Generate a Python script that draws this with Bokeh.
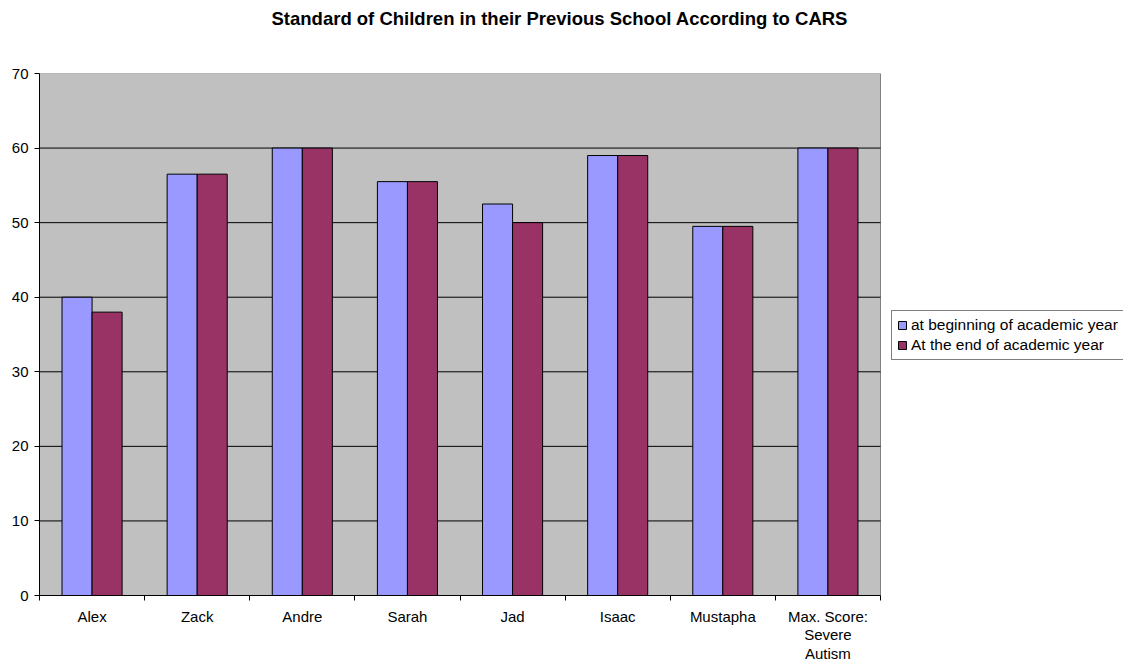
from bokeh.plotting import figure
from bokeh.models import ColumnDataSource, FixedTicker, Legend, LegendItem, Range1d, Title
from bokeh.embed import file_html
from bokeh.resources import INLINE

# CARS scores per child
children = ["Alex", "Zack", "Andre", "Sarah", "Jad", "Isaac", "Mustapha", "Max. Score:\nSevere\nAutism"]
beginning_of_year = [40, 56.5, 60, 55.5, 52.5, 59, 49.5, 60]
end_of_year = [38, 56.5, 60, 55.5, 50, 59, 49.5, 60]
y_ticks = [0, 10, 20, 30, 40, 50, 60, 70]

FONT = "Liberation Sans"
bar_w = 1 / 3.5  # two bars plus a 150% gap per category

# page geometry: the data frame runs to the right edge so the legend can sit beside the bars
PAGE_W, PAGE_H = 1123, 664
LEFT, TOP, BOTTOM = 39, 73, 68
CHART_W = 841  # width of the grey chart area in pixels
frame_w = PAGE_W - LEFT
n = len(children)
x_end = n * frame_w / CHART_W

centers = [i + 0.5 for i in range(n)]
src = ColumnDataSource(dict(
    x_begin=[c - bar_w / 2 for c in centers],
    x_end=[c + bar_w / 2 for c in centers],
    begin=beginning_of_year,
    end=end_of_year,
))

p = figure(
    width=PAGE_W, height=PAGE_H,
    x_range=Range1d(0, x_end), y_range=Range1d(y_ticks[0], y_ticks[-1]),
    output_backend="svg", toolbar_location=None,
    min_border_left=LEFT, min_border_right=0, min_border_top=TOP, min_border_bottom=BOTTOM,
)
p.background_fill_color = "white"
p.border_fill_color = "white"
p.outline_line_color = None
p.xgrid.visible = False
p.ygrid.visible = False

p.title.text = "Standard of Children in their Previous School According to CARS"
p.title.align = "left"
p.title.offset = 232
p.title.standoff = 9
p.title.text_font = FONT
p.title.text_font_size = "18.5px"
p.title.text_font_style = "bold"
p.title.text_color = "black"

# blank band between the title and the plot area
p.add_layout(Title(text=" ", text_font_size="10px", standoff=27), "above")

# grey chart area with its border
p.quad(left=[0], right=[n], bottom=[y_ticks[0]], top=[y_ticks[-1]],
       fill_color="#C0C0C0", line_color="#808080", line_width=1)

# horizontal gridlines across the chart area only
inner = y_ticks[1:-1]
p.segment(x0=[0] * len(inner), x1=[n] * len(inner), y0=inner, y1=inner,
          line_color="black", line_width=1)

r_begin = p.vbar(x="x_begin", top="begin", width=bar_w, source=src,
                 fill_color="#9999FF", line_color="black", line_width=1)
r_end = p.vbar(x="x_end", top="end", width=bar_w, source=src,
               fill_color="#993366", line_color="black", line_width=1)

# x axis: labels at category centres, tick marks at category boundaries
p.xaxis.bounds = (0, n)
p.xaxis.ticker = FixedTicker(ticks=centers, minor_ticks=list(range(n + 1)))
p.xaxis.major_label_overrides = {c: name for c, name in zip(centers, children)}
p.xaxis.major_tick_out = 0
p.xaxis.major_tick_in = 0
p.xaxis.minor_tick_out = 5
p.xaxis.minor_tick_in = 0
p.xaxis.minor_tick_line_color = "black"
p.xaxis.major_label_standoff = 7
p.xaxis.major_label_text_font = FONT
p.xaxis.major_label_text_font_size = "15px"
p.xaxis.major_label_text_line_height = 1.1
p.xaxis.major_label_text_color = "black"
p.xaxis.axis_line_color = "black"

p.yaxis.ticker = FixedTicker(ticks=y_ticks)
p.yaxis.major_tick_out = 5
p.yaxis.major_tick_in = 0
p.yaxis.minor_tick_line_color = None
p.yaxis.major_tick_line_color = "black"
p.yaxis.axis_line_color = "black"
p.yaxis.major_label_standoff = 6
p.yaxis.major_label_text_font = FONT
p.yaxis.major_label_text_font_size = "15px"
p.yaxis.major_label_text_color = "black"

legend = Legend(
    items=[
        LegendItem(label="at beginning of academic year", renderers=[r_begin]),
        LegendItem(label="At the end of academic year", renderers=[r_end]),
    ],
    location=(CHART_W + 11, 235),
    label_text_font=FONT, label_text_font_size="15.5px", label_text_color="black",
    glyph_width=10, glyph_height=10, label_standoff=4,
    label_height=17, spacing=2, padding=5, margin=0,
    border_line_color="black", border_line_width=1,
    background_fill_color="white", background_fill_alpha=1,
)
p.add_layout(legend, "center")

open("out.html", "w").write(file_html(p, INLINE))
